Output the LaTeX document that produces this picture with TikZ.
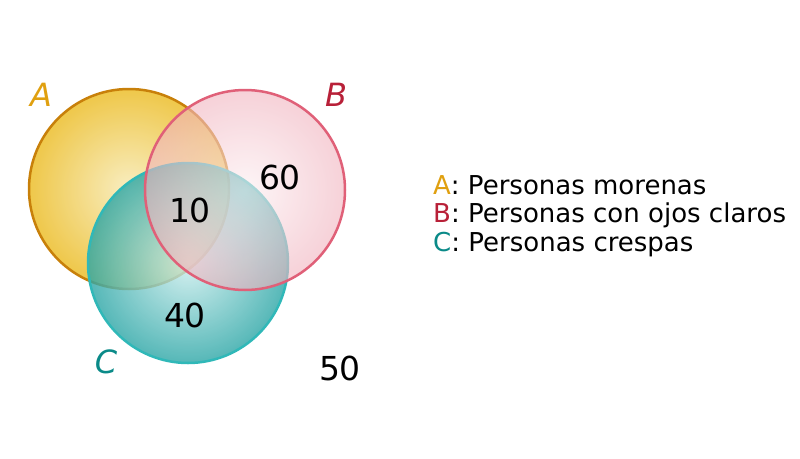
\documentclass[tikz,border=0pt]{standalone}
\usepackage{fontspec}
\setmainfont{DejaVu Sans}
\definecolor{colA}{HTML}{E0A010}
\definecolor{rimA}{HTML}{C8800A}
\definecolor{fillA}{HTML}{E8C020}
\definecolor{colB}{HTML}{B82038}
\definecolor{rimB}{HTML}{E06078}
\definecolor{colC}{HTML}{0A8A88}
\definecolor{rimC}{HTML}{30B8B8}
\tikzset{
  setcircle/.style={circle,minimum size=200pt,inner sep=0pt,line width=2.5pt,fill opacity=.8},
  setlabel/.style={font=\fontsize{32}{36}\selectfont\itshape},
  count/.style={font=\fontsize{33}{36}\selectfont},
  legend/.style={font=\fontsize{26}{28}\selectfont,anchor=west,inner sep=0pt}
}
\begin{document}
\begin{tikzpicture}[x=1pt,y=-1pt]
\useasboundingbox (0,0) rectangle (800,458);
% the three sets
\node (setA) [setcircle,draw=rimA,inner color=fillA!35!white,outer color=fillA!90!orange] at (129,189) {};
\node (setC) [setcircle,draw=rimC,inner color=rimC!25!white,outer color=rimC!90!black] at (188,263) {};
\node (setB) [setcircle,draw=rimB,fill opacity=.6,inner color=rimB!10!white,outer color=rimB!48!white] at (245,190) {};
% set names
\node (nameA) [setlabel,colA] at (41,95) {A};
\node (nameB) [setlabel,colB] at (336,95) {B};
\node (nameC) [setlabel,colC] at (106,362) {C};
% counts
\node (nB)   [count] at (280,177) {60};
\node (nABC) [count] at (190,210) {10};
\node (nC)   [count] at (185,315) {40};
\node (nOut) [count] at (340,368) {50};
% legend
\node (legA) [legend] at (433,185) {\textcolor{colA}{A}: Personas morenas};
\node (legB) [legend] at (433,215) {\textcolor{colB}{B}: Personas con ojos claros};
\node (legC) [legend] at (433,245) {\textcolor{colC}{C}: Personas crespas};
\end{tikzpicture}
\end{document}
